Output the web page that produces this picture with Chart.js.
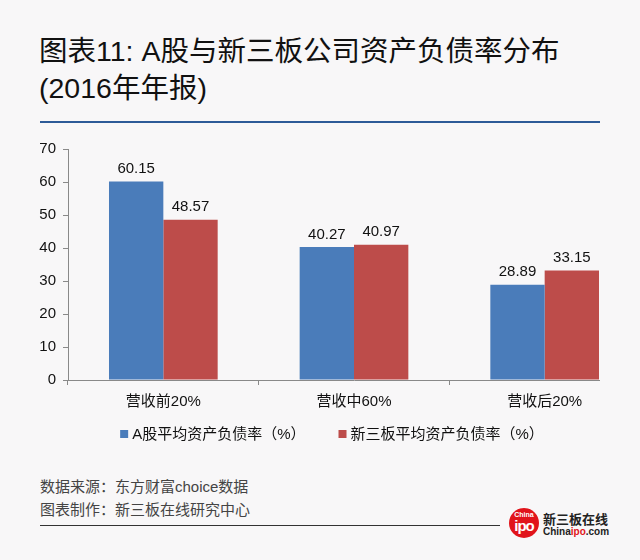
<!DOCTYPE html>
<html>
<head>
<meta charset="utf-8">
<script src="https://cdn.jsdelivr.net/npm/chart.js@4/dist/chart.umd.min.js"></script>
<style>
  body { margin: 0; background: #f8f7f8; font-family: "Liberation Sans", "Noto Sans CJK SC", sans-serif; }
  #page { position: relative; width: 640px; height: 560px; overflow: hidden; background: #f8f7f8; }
  .title { position: absolute; left: 39px; color: #111; font-size: 28.5px; line-height: 36px; white-space: nowrap; }
  #rule { position: absolute; left: 40px; top: 121px; width: 560px; height: 2px; background: #2d5b98; }
  #chartBox { position: absolute; left: 0; top: 130px; width: 600px; height: 322px; overflow: hidden; }
  #chartBox canvas { width: 640px !important; height: 322px !important; }
  .note { position: absolute; left: 40px; font-size: 15px; color: #444; white-space: nowrap; }
  #foot { position: absolute; left: 40px; top: 525px; width: 460px; height: 1px; background: #333; }
  #logoDot { position: absolute; left: 509px; top: 508px; width: 30px; height: 30px; border-radius: 50%; background: #e1141b; color: #fff; text-align: center; }
  #logoDot .c { position: absolute; left: 0; right: 0; top: 3px; font-size: 7px; font-weight: bold; line-height: 7px; }
  #logoDot .i { position: absolute; left: 0; right: 0; top: 10px; font-size: 15px; font-weight: bold; line-height: 15px; letter-spacing: -1px; }
  .logoTxt { position: absolute; left: 543px; white-space: nowrap; color: #222; font-weight: bold; }
</style>
</head>
<body>
<div id="page">
  <div class="title" style="top:33px">图表11: A股与新三板公司资产负债率分布</div>
  <div class="title" style="top:70px">(2016年年报)</div>
  <div id="rule"></div>
  <div id="chartBox"><canvas id="barChart" width="640" height="322"></canvas></div>
  <div class="note" style="top:475px">数据来源：东方财富choice数据</div>
  <div class="note" style="top:498px">图表制作：新三板在线研究中心</div>
  <div id="foot"></div>
  <div id="logoDot"><div class="c">China</div><div class="i">ipo</div></div>
  <div class="logoTxt" style="top:509px;font-size:13px">新三板在线</div>
  <div class="logoTxt" style="top:526px;font-size:10px">China<span style="color:#e1141b">ipo</span>.com</div>
</div>
<script>
const categories = ['营收前20%', '营收中60%', '营收后20%'];
const seriesNames = ['A股平均资产负债率（%）', '新三板平均资产负债率（%）'];
const aShare = [60.15, 40.27, 28.89];
const neeq = [48.57, 40.97, 33.15];
const yTicks = [0, 10, 20, 30, 40, 50, 60, 70];

const axisColor = '#898989';
const fontFamily = '"Liberation Sans", "Noto Sans CJK SC", sans-serif';

// value labels above each bar
const valueLabels = {
    id: 'valueLabels',
    afterDatasetsDraw(chart) {
        const ctx = chart.ctx;
        ctx.save();
        ctx.font = '15px ' + fontFamily;
        ctx.fillStyle = '#111';
        ctx.textAlign = 'center';
        ctx.textBaseline = 'bottom';
        chart.data.datasets.forEach((ds, i) => {
            chart.getDatasetMeta(i).data.forEach((bar, j) => {
                ctx.fillText(ds.data[j].toFixed(2), bar.x, bar.y - 5);
            });
        });
        ctx.restore();
    }
};

// legend row under the axis labels, squares + names, wide gap between items
const legendRow = {
    id: 'legendRow',
    afterDraw(chart) {
        const ctx = chart.ctx;
        const box = 8, textGap = 4, itemGap = 33;
        ctx.save();
        ctx.font = '15px ' + fontFamily;
        ctx.textBaseline = 'middle';
        const items = chart.data.datasets.map(ds => ({
            text: ds.label, color: ds.backgroundColor, w: box + textGap + ctx.measureText(ds.label).width
        }));
        const total = items.reduce((s, it) => s + it.w, 0) + itemGap * (items.length - 1);
        let x = 332 - total / 2;
        const y = chart.chartArea.bottom + 54;
        items.forEach(it => {
            ctx.fillStyle = it.color;
            ctx.fillRect(x, y - box / 2, box, box);
            ctx.fillStyle = '#111';
            ctx.fillText(it.text, x + box + textGap, y + 1);
            x += it.w + itemGap;
        });
        ctx.restore();
    }
};

const ctx = document.getElementById('barChart').getContext('2d');

new Chart(ctx, {
    type: 'bar',
    data: {
        labels: categories,
        datasets: [{
            label: seriesNames[0],
            data: aShare,
            backgroundColor: '#4a7cba',
            categoryPercentage: 0.57,
            barPercentage: 1.0
        }, {
            label: seriesNames[1],
            data: neeq,
            backgroundColor: '#bd4c4a',
            categoryPercentage: 0.57,
            barPercentage: 1.0
        }]
    },
    options: {
        responsive: false,
        animation: false,
        layout: { padding: { left: 20, right: 0, top: 19, bottom: 33 } },
        scales: {
            x: {
                offset: true,
                grid: { offset: true, drawOnChartArea: false, drawTicks: true, tickLength: 5, color: axisColor },
                border: { color: axisColor, width: 1 },
                ticks: { color: '#111', padding: 8, font: { size: 15, family: fontFamily } }
            },
            y: {
                min: 0,
                max: 70,
                afterBuildTicks: scale => { scale.ticks = yTicks.map(v => ({ value: v })); },
                afterFit: scale => { scale.width = 48; },
                grid: { drawOnChartArea: false, drawTicks: true, tickLength: 5, color: axisColor },
                border: { color: axisColor, width: 1 },
                ticks: { color: '#111', padding: 7, font: { size: 15, family: fontFamily } }
            }
        },
        plugins: {
            legend: { display: false },
            tooltip: { enabled: false }
        }
    },
    plugins: [valueLabels, legendRow]
});
</script>
</body>
</html>
